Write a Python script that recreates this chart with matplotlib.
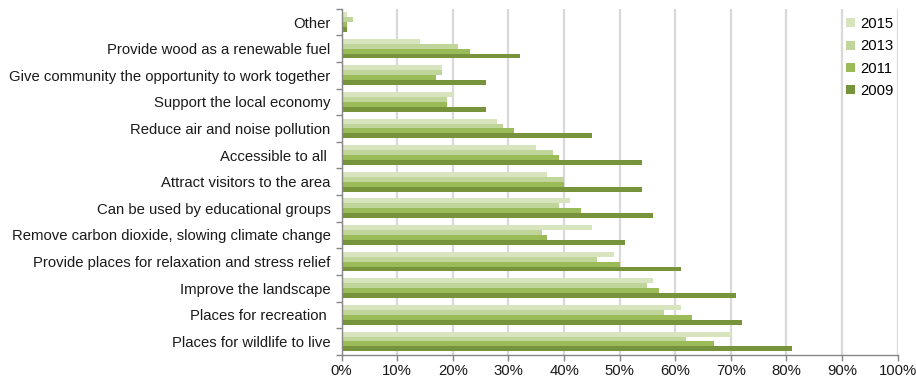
import numpy as np
import matplotlib.pyplot as plt
from matplotlib.ticker import FixedLocator, PercentFormatter

plt.rcParams['font.family'] = ['Liberation Sans', 'DejaVu Sans']

# categories, top to bottom as shown
categories = ['Other',
              'Provide wood as a renewable fuel',
              'Give community the opportunity to work together',
              'Support the local economy',
              'Reduce air and noise pollution',
              'Accessible to all ',
              'Attract visitors to the area',
              'Can be used by educational groups',
              'Remove carbon dioxide, slowing climate change',
              'Provide places for relaxation and stress relief',
              'Improve the landscape',
              'Places for recreation ',
              'Places for wildlife to live']

years = ['2015', '2013', '2011', '2009']

pct_2015 = [1, 14, 18, 20, 28, 35, 37, 41, 45, 49, 56, 61, 70]
pct_2013 = [2, 21, 18, 19, 29, 38, 40, 39, 36, 46, 55, 58, 62]
pct_2011 = [1, 23, 17, 19, 31, 39, 40, 43, 37, 50, 57, 63, 67]
pct_2009 = [1, 32, 26, 26, 45, 54, 54, 56, 51, 61, 71, 72, 81]

colours = ['#d7e4bd', '#c0d59a', '#9bbb59', '#77933c']

fig = plt.figure(figsize=(9.16, 3.79), dpi=100)
ax = fig.add_axes([0.373, 0.064, 0.607, 0.913])

n = len(categories)
ypos = np.arange(n)[::-1]
h = 0.185

for j, (vals, col, yr) in enumerate(zip([pct_2015, pct_2013, pct_2011, pct_2009],
                                        colours, years)):
    ax.barh(ypos + (1.5 - j) * h, vals, height=h, color=col,
            label=yr, zorder=2, linewidth=0)

ax.set_xlim(0, 100)
ax.set_ylim(-0.5, n - 0.5)
ax.xaxis.set_major_locator(FixedLocator(np.arange(0, 101, 10)))
ax.xaxis.set_major_formatter(PercentFormatter(decimals=0))

ax.grid(axis='x', color='#d9d9d9', linewidth=1.6, zorder=0)
ax.set_axisbelow(True)

ax.set_yticks(ypos)
ax.set_yticklabels(categories)
ax.yaxis.set_minor_locator(FixedLocator(np.arange(-0.5, n, 1.0)))
ax.tick_params(axis='y', which='major', length=0, pad=8, labelsize=10.7,
               labelcolor='#1a1a1a')
ax.tick_params(axis='y', which='minor', length=4, color='#868686', width=1)
ax.tick_params(axis='x', which='major', length=4, color='#868686', width=1,
               labelsize=10.7, labelcolor='#1a1a1a', pad=3)

for side in ['top', 'right']:
    ax.spines[side].set_visible(False)
for side in ['left', 'bottom']:
    ax.spines[side].set_color('#868686')
    ax.spines[side].set_linewidth(1)

leg = ax.legend(loc='upper right', bbox_to_anchor=(0.996, 0.982), frameon=True,
                fontsize=10.7, handlelength=0.55, handleheight=0.55,
                handletextpad=0.35, labelspacing=0.55, borderaxespad=0.0,
                borderpad=0.15)
leg.get_frame().set_facecolor('white')
leg.get_frame().set_edgecolor('white')
leg.get_frame().set_alpha(1)

fig.savefig('out.png', dpi=100)
